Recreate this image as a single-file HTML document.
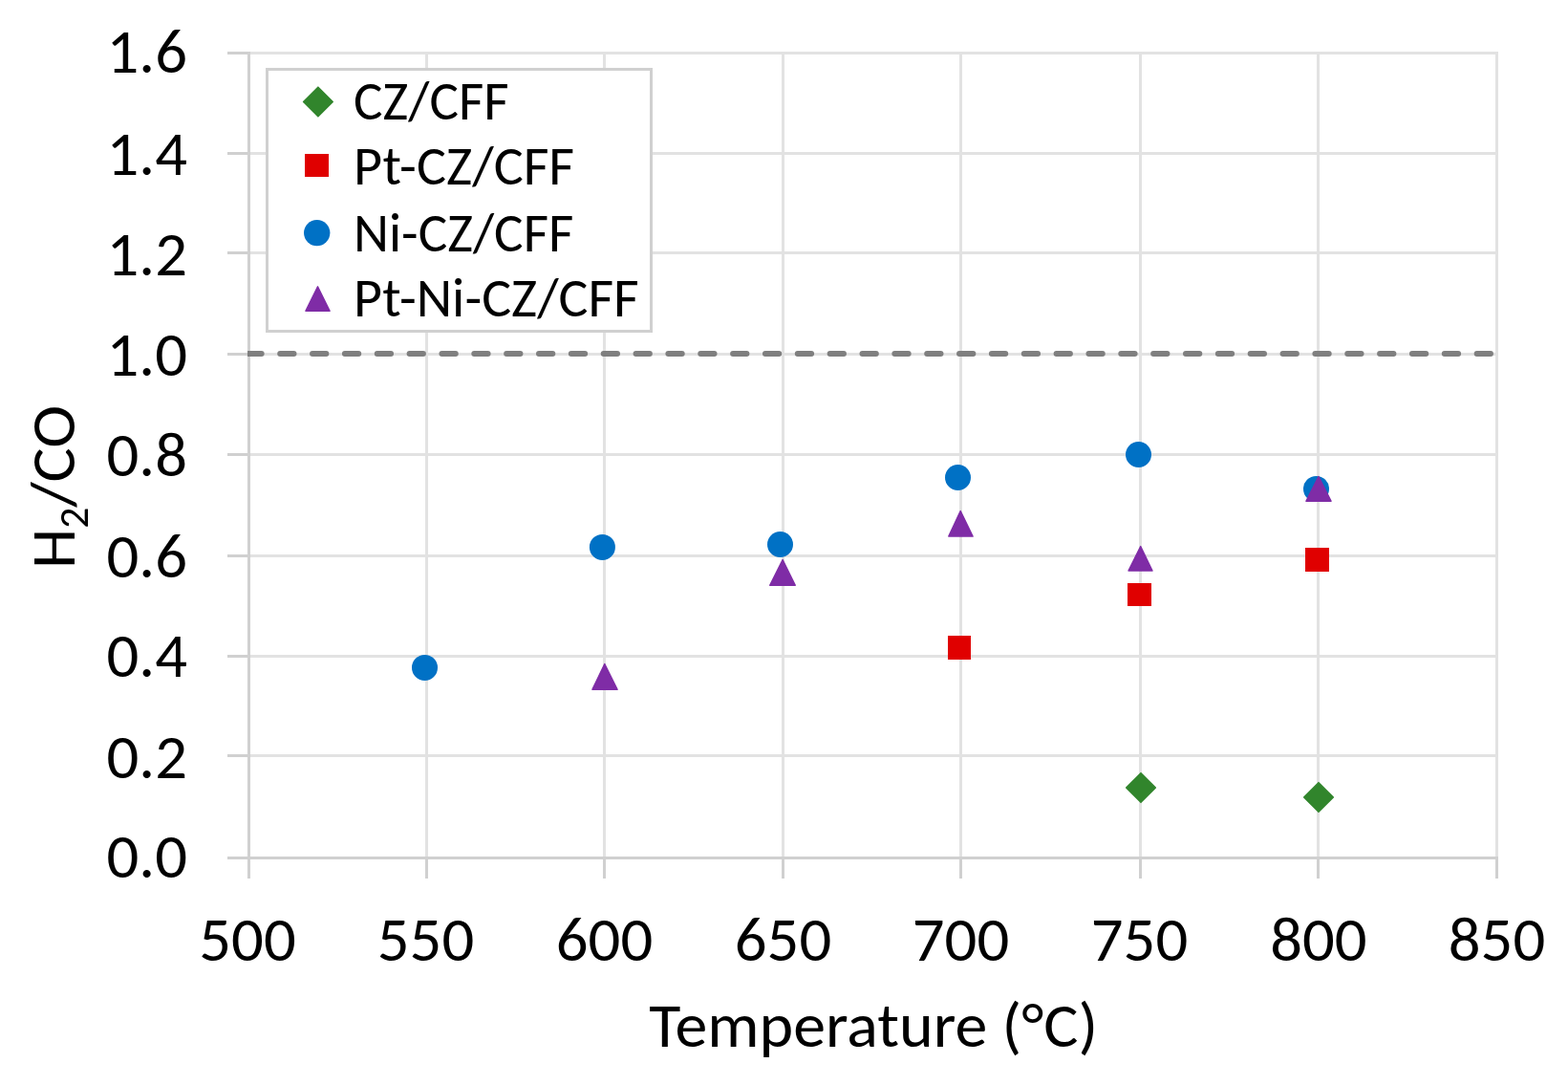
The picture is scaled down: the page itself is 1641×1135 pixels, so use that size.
<!DOCTYPE html>
<html><head><meta charset="utf-8"><title>H2/CO vs Temperature</title>
<style>
html,body{margin:0;padding:0;background:#fff;}
svg{display:block;}
text{font-family:Carlito, 'Liberation Sans', sans-serif;fill:#000;}
</style></head>
<body>
<svg width="1641" height="1135" viewBox="0 0 1641 1135">
<defs><clipPath id="pc"><rect x="259" y="0" width="1307" height="1135"/></clipPath></defs>
<rect width="1641" height="1135" fill="#FFFFFF"/>
<rect x="262" y="54.0" width="1304" height="3" fill="#E2E2E2"/>
<rect x="262" y="159.0" width="1304" height="3" fill="#E2E2E2"/>
<rect x="262" y="263.0" width="1304" height="3" fill="#E2E2E2"/>
<rect x="262" y="369.0" width="1304" height="3" fill="#E2E2E2"/>
<rect x="262" y="474.0" width="1304" height="3" fill="#E2E2E2"/>
<rect x="262" y="580.0" width="1304" height="3" fill="#E2E2E2"/>
<rect x="262" y="685.0" width="1304" height="3" fill="#E2E2E2"/>
<rect x="262" y="789.0" width="1304" height="3" fill="#E2E2E2"/>
<rect x="445.0" y="54" width="3" height="842" fill="#E2E2E2"/>
<rect x="631.0" y="54" width="3" height="842" fill="#E2E2E2"/>
<rect x="818.0" y="54" width="3" height="842" fill="#E2E2E2"/>
<rect x="1004.0" y="54" width="3" height="842" fill="#E2E2E2"/>
<rect x="1192.0" y="54" width="3" height="842" fill="#E2E2E2"/>
<rect x="1378.0" y="54" width="3" height="842" fill="#E2E2E2"/>
<rect x="1565.0" y="54" width="3" height="842" fill="#E2E2E2"/>
<rect x="238" y="54.0" width="21" height="3" fill="#D0D0D0"/>
<rect x="238" y="159.0" width="21" height="3" fill="#D0D0D0"/>
<rect x="238" y="263.0" width="21" height="3" fill="#D0D0D0"/>
<rect x="238" y="369.0" width="21" height="3" fill="#D0D0D0"/>
<rect x="238" y="474.0" width="21" height="3" fill="#D0D0D0"/>
<rect x="238" y="580.0" width="21" height="3" fill="#D0D0D0"/>
<rect x="238" y="685.0" width="21" height="3" fill="#D0D0D0"/>
<rect x="238" y="789.0" width="21" height="3" fill="#D0D0D0"/>
<rect x="445.0" y="899" width="3" height="20" fill="#D0D0D0"/>
<rect x="631.0" y="899" width="3" height="20" fill="#D0D0D0"/>
<rect x="818.0" y="899" width="3" height="20" fill="#D0D0D0"/>
<rect x="1004.0" y="899" width="3" height="20" fill="#D0D0D0"/>
<rect x="1192.0" y="899" width="3" height="20" fill="#D0D0D0"/>
<rect x="1378.0" y="899" width="3" height="20" fill="#D0D0D0"/>
<rect x="1565.0" y="899" width="3" height="20" fill="#D0D0D0"/>
<rect x="259.0" y="899" width="3" height="20" fill="#D0D0D0"/>
<rect x="259" y="54" width="3" height="845" fill="#D0D0D0"/>
<rect x="238" y="896" width="1330" height="3" fill="#D0D0D0"/>
<g clip-path="url(#pc)"><line x1="259.35" y1="370" x2="1566" y2="370" stroke="#7F7F7F" stroke-width="6" stroke-linecap="round" stroke-dasharray="14.3 19.55"/></g>
<path d="M1194 808.7L1209.3 824L1194 839.3L1178.7 824Z" fill="#31852C" stroke="#31852C" stroke-width="1.6" stroke-linejoin="round"/>
<path d="M1380 818.7L1395.3 834L1380 849.3L1364.7 834Z" fill="#31852C" stroke="#31852C" stroke-width="1.6" stroke-linejoin="round"/>
<rect x="992" y="665" width="24" height="25" fill="#E00000"/>
<rect x="1180" y="610" width="25" height="24" fill="#E00000"/>
<rect x="1366" y="573" width="25" height="25" fill="#E00000"/>
<circle cx="444.5" cy="698.4" r="13.5" fill="#0071C5"/>
<circle cx="630.4" cy="572.4" r="13.5" fill="#0071C5"/>
<circle cx="816.5" cy="569.5" r="13.5" fill="#0071C5"/>
<circle cx="1002.5" cy="499.5" r="13.5" fill="#0071C5"/>
<circle cx="1191.5" cy="475.5" r="13.5" fill="#0071C5"/>
<circle cx="1377.5" cy="511.4" r="13.5" fill="#0071C5"/>
<path d="M632.8 694.50L646.10 721.30L619.90 721.30Z" fill="#7F2CA6" stroke="#7F2CA6" stroke-width="1.4" stroke-linejoin="round"/>
<path d="M819.1 585.60L832.30 612.20L805.70 612.20Z" fill="#7F2CA6" stroke="#7F2CA6" stroke-width="1.4" stroke-linejoin="round"/>
<path d="M1005.2 534.60L1018.10 561.10L992.80 561.10Z" fill="#7F2CA6" stroke="#7F2CA6" stroke-width="1.4" stroke-linejoin="round"/>
<path d="M1193.7 571.60L1206.00 597.00L1181.00 597.00Z" fill="#7F2CA6" stroke="#7F2CA6" stroke-width="1.4" stroke-linejoin="round"/>
<path d="M1380 498.60L1393.10 524.20L1366.90 524.20Z" fill="#7F2CA6" stroke="#7F2CA6" stroke-width="1.4" stroke-linejoin="round"/>
<rect x="279.5" y="72.5" width="402" height="274" fill="#FFFFFF" stroke="#D0D0D0" stroke-width="3"/>
<path d="M332.9 91.2L348.2 106.5L332.9 121.8L317.59999999999997 106.5Z" fill="#31852C" stroke="#31852C" stroke-width="1.6" stroke-linejoin="round"/>
<rect x="319" y="161" width="25" height="24" fill="#E00000"/>
<circle cx="331.7" cy="243.6" r="13.7" fill="#0071C5"/>
<path d="M332.5 299.80L345.10 325.30L319.90 325.30Z" fill="#7F2CA6" stroke="#7F2CA6" stroke-width="1.4" stroke-linejoin="round"/>
<text transform="matrix(0.9817 0 0 1 370 125.2)" font-size="58.33" textLength="165.6" lengthAdjust="spacingAndGlyphs">CZ/CFF</text>
<text transform="matrix(0.9974 0 0 1 370 193.0)" font-size="58.33" textLength="231.72" lengthAdjust="spacingAndGlyphs">Pt-CZ/CFF</text>
<text transform="matrix(0.982 0 0 1 370 262.8)" font-size="58.33" textLength="234.51" lengthAdjust="spacingAndGlyphs">Ni-CZ/CFF</text>
<text transform="matrix(0.994 0 0 1 370 330.7)" font-size="58.33" textLength="300.56" lengthAdjust="spacingAndGlyphs">Pt-Ni-CZ/CFF</text>
<text x="196" y="76.3" font-size="66.67" text-anchor="end" textLength="84.41" lengthAdjust="spacingAndGlyphs">1.6</text>
<text x="196" y="182.9" font-size="66.67" text-anchor="end" textLength="84.41" lengthAdjust="spacingAndGlyphs">1.4</text>
<text x="196" y="288.0" font-size="66.67" text-anchor="end" textLength="84.41" lengthAdjust="spacingAndGlyphs">1.2</text>
<text x="196" y="392.5" font-size="66.67" text-anchor="end" textLength="84.41" lengthAdjust="spacingAndGlyphs">1.0</text>
<text x="196" y="498.3" font-size="66.67" text-anchor="end" textLength="84.41" lengthAdjust="spacingAndGlyphs">0.8</text>
<text x="196" y="603.8" font-size="66.67" text-anchor="end" textLength="84.41" lengthAdjust="spacingAndGlyphs">0.6</text>
<text x="196" y="707.6" font-size="66.67" text-anchor="end" textLength="84.41" lengthAdjust="spacingAndGlyphs">0.4</text>
<text x="196" y="813.5" font-size="66.67" text-anchor="end" textLength="84.41" lengthAdjust="spacingAndGlyphs">0.2</text>
<text x="196" y="918.4" font-size="66.67" text-anchor="end" textLength="84.41" lengthAdjust="spacingAndGlyphs">0.0</text>
<text x="259.0" y="1004.8" font-size="66.67" text-anchor="middle" textLength="101.36" lengthAdjust="spacingAndGlyphs">500</text>
<text x="445.5" y="1004.8" font-size="66.67" text-anchor="middle" textLength="101.36" lengthAdjust="spacingAndGlyphs">550</text>
<text x="632.5" y="1004.8" font-size="66.67" text-anchor="middle" textLength="101.36" lengthAdjust="spacingAndGlyphs">600</text>
<text x="819.5" y="1004.8" font-size="66.67" text-anchor="middle" textLength="101.36" lengthAdjust="spacingAndGlyphs">650</text>
<text x="1005.5" y="1004.8" font-size="66.67" text-anchor="middle" textLength="101.36" lengthAdjust="spacingAndGlyphs">700</text>
<text x="1192.5" y="1004.8" font-size="66.67" text-anchor="middle" textLength="101.36" lengthAdjust="spacingAndGlyphs">750</text>
<text x="1379.9" y="1004.8" font-size="66.67" text-anchor="middle" textLength="101.36" lengthAdjust="spacingAndGlyphs">800</text>
<text x="1566.5" y="1004.8" font-size="66.67" text-anchor="middle" textLength="101.36" lengthAdjust="spacingAndGlyphs">850</text>
<text transform="matrix(1.0191 0 0 1 914.19 1094.6)" font-size="66.67" text-anchor="middle" textLength="460.84" lengthAdjust="spacingAndGlyphs">Temperature (°C)</text>
<text transform="translate(78,509.5) rotate(-90) scale(1.0168,1)" font-size="66.67" text-anchor="middle" textLength="168.18" lengthAdjust="spacingAndGlyphs">H<tspan font-size="43" dy="14">2</tspan><tspan dy="-14">/CO</tspan></text>
</svg>
</body></html>
